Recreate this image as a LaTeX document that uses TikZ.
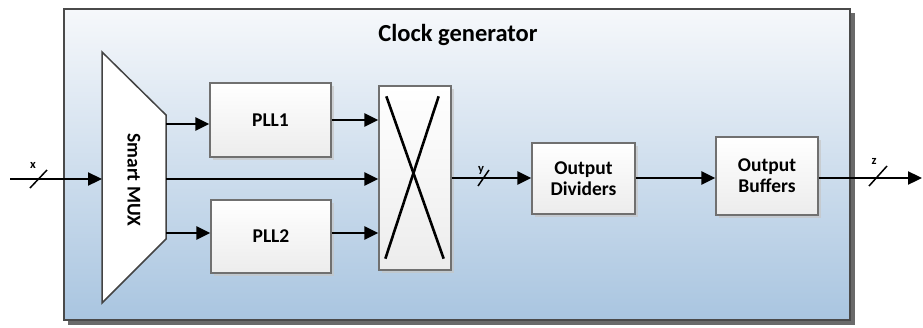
\documentclass[tikz,border=0pt]{standalone}
\usepackage{fontspec}
\setmainfont{Carlito}
\usetikzlibrary{arrows.meta,shadows,calc}
\definecolor{bgtop}{HTML}{F6F8FB}
\definecolor{bgbot}{HTML}{A9C5E0}
\definecolor{frame}{HTML}{4A4A4A}
\definecolor{frameshadow}{HTML}{6A6A6A}
\definecolor{boxborder}{HTML}{707070}
\definecolor{boxbot}{HTML}{ECECEC}
\tikzset{
  blk/.style={draw=boxborder, line width=1.3pt, top color=white, bottom color=boxbot,
    font=\fontsize{19.5}{21}\selectfont\bfseries, align=center, inner sep=0pt,
    drop shadow={shadow xshift=2.5pt, shadow yshift=-2.5pt, fill=gray!45, opacity=0.7}},
  sig/.style={line width=2.3pt, -{Triangle[length=14pt,width=13pt]}},
  slash/.style={line width=1.5pt},
  buslbl/.style={font=\fontsize{12.5}{14}\selectfont\bfseries, inner sep=0pt},
}
\begin{document}
\begin{tikzpicture}[x=1pt,y=-1pt]
\useasboundingbox (0,0) rectangle (923,327);
% outer frame
\fill[frameshadow] (68,13) rectangle (855,325);
\draw[frame, line width=1.3pt, top color=bgtop, bottom color=bgbot] (64,9) rectangle (850,320);
\node[font=\fontsize{24.5}{28}\selectfont\bfseries, inner sep=0pt] (title) at (458,35) {Clock generator};

% Smart MUX trapezoid
\coordinate (m1) at (102,52);
\coordinate (m2) at (166,115);
\coordinate (m3) at (166,239);
\coordinate (m4) at (102,303);
\draw[boxborder!60!black, line width=1.5pt, fill=white] (m1) -- (m2) -- (m3) -- (m4) -- cycle;
\node[rotate=-90, font=\fontsize{19.5}{21}\selectfont\bfseries, inner sep=0pt] (mux) at (134,180) {Smart MUX};
\coordinate (muxin) at (102,179);
\coordinate (muxo1) at (166,124);
\coordinate (muxo2) at (166,179);
\coordinate (muxo3) at (166,233);

% blocks
\node[blk, minimum width=121pt, minimum height=74pt] (pll1) at (270.5,120) {PLL1};
\node[blk, minimum width=120pt, minimum height=73pt] (pll2) at (271,236.5) {PLL2};
\node[blk, minimum width=72pt, minimum height=184pt] (xbar) at (415,178) {};
\draw[line width=2.6pt] ($(xbar.north west)+(8,11)$) -- ($(xbar.south east)+(-8,-12)$);
\draw[line width=2.6pt] ($(xbar.north east)+(-13,11)$) -- ($(xbar.south west)+(7,-12)$);
\node[blk, minimum width=103pt, minimum height=71pt] (div) at (583.5,178.5) {Output\\Dividers};
\node[blk, minimum width=102pt, minimum height=78pt] (buf) at (767,176) {Output\\Buffers};

% input
\coordinate (xin) at (10,179);
\draw[sig] (xin) -- (muxin);
\draw[slash] (30,188) -- (47,170);
\node[buslbl] (xl) at (33,165) {x};

% MUX -> PLLs and crossbar
\draw[sig] (muxo1) -- (muxo1 -| pll1.west);
\draw[sig] (muxo3) -- (muxo3 -| pll2.west);
\draw[sig] (muxo2) -- (muxo2 -| xbar.west);
\draw[sig] (pll1.east |- 0,120) -- (xbar.west |- 0,120);
\draw[sig] (pll2.east |- 0,233) -- (xbar.west |- 0,233);

% crossbar -> dividers
\draw[sig] (xbar.east |- 0,178) -- (div.west |- 0,178);
\draw[slash] (478,186) -- (489,170);
\node[buslbl] (yl) at (481,170) {y};

% dividers -> buffers
\draw[sig] (div.east |- 0,178) -- (buf.west |- 0,178);

% output
\coordinate (zout) at (922,178);
\draw[sig] (buf.east |- 0,178) -- (zout);
\draw[slash] (869,186) -- (887,166);
\node[buslbl] (zl) at (874,161) {z};
\end{tikzpicture}
\end{document}
